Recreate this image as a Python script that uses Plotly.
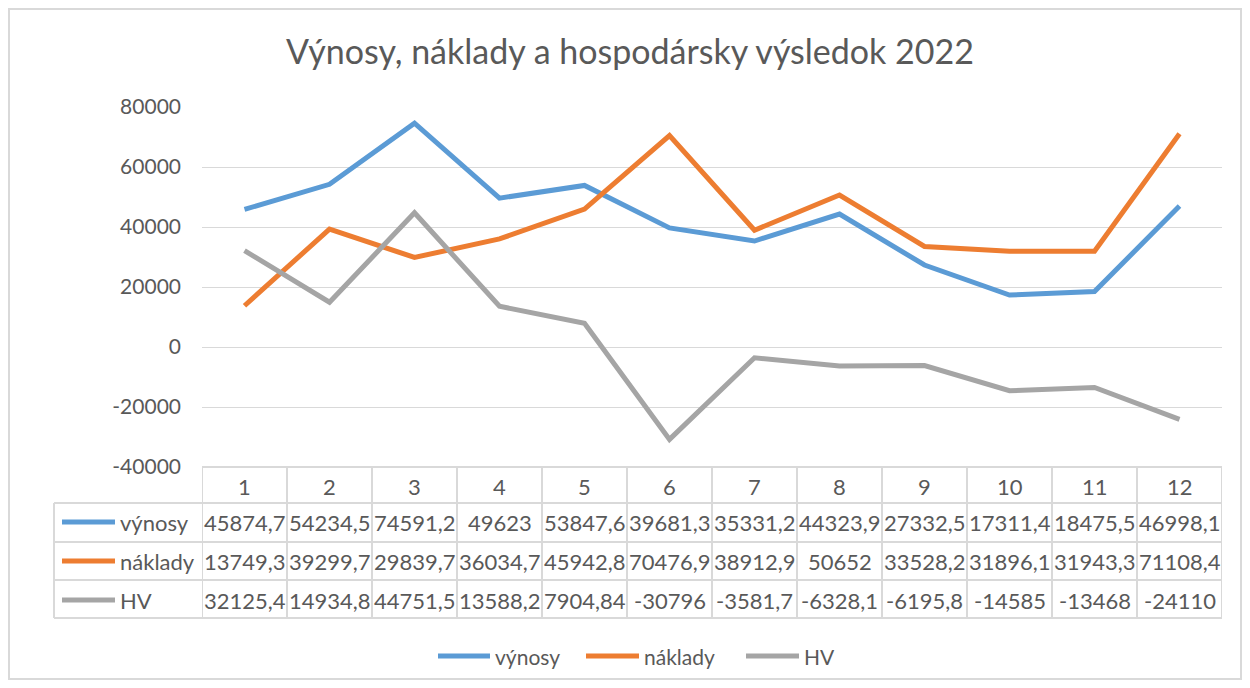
import plotly.graph_objects as go

months = [1, 2, 3, 4, 5, 6, 7, 8, 9, 10, 11, 12]
vynosy = [45874.7, 54234.5, 74591.2, 49623, 53847.6, 39681.3, 35331.2, 44323.9, 27332.5, 17311.4, 18475.5, 46998.1]
naklady = [13749.3, 39299.7, 29839.7, 36034.7, 45942.8, 70476.9, 38912.9, 50652, 33528.2, 31896.1, 31943.3, 71108.4]
hv = [32125.4, 14934.8, 44751.5, 13588.2, 7904.84, -30796, -3581.7, -6328.1, -6195.8, -14585, -13468, -24110]
y_ticks = [-40000, -20000, 0, 20000, 40000, 60000, 80000]

series = [("výnosy", vynosy, "#5B9BD5"), ("náklady", naklady, "#ED7D31"), ("HV", hv, "#A5A5A5")]

TXT = "#595959"
GRID = "#D9D9D9"
FONT = "Lato"

# page pixel -> paper coords (figure sits 8px in from page edge)
def px(X):
    return (X - 202) / 1020

def py(Y):
    return (467 - Y) / 360

def fmt(v):
    return "{:g}".format(v).replace(".", ",")

fig = go.Figure()
for name, vals, col in series:
    fig.add_trace(go.Scatter(x=months, y=vals, name=name, mode="lines",
                             line=dict(color=col, width=5)))

shapes = []
ann = []

def label(x, y, text, xref="paper", xanchor="center", size=22):
    ann.append(dict(x=x, y=y, xref=xref, yref="paper", text=text, showarrow=False,
                    xanchor=xanchor, yanchor="middle",
                    font=dict(family=FONT, size=size, color=TXT)))

# table grid
tbl_lines = dict(color=GRID, width=2)
for k in range(len(months) + 1):
    shapes.append(dict(type="line", xref="x", yref="paper", x0=k + 0.5, x1=k + 0.5,
                       y0=py(467), y1=py(618), line=tbl_lines))
shapes.append(dict(type="line", xref="paper", yref="paper", x0=px(54), x1=px(54),
                   y0=py(503), y1=py(618), line=tbl_lines))
shapes.append(dict(type="line", xref="paper", yref="paper", x0=px(202), x1=px(1222),
                   y0=py(467), y1=py(467), line=tbl_lines))
for Y in [503, 542, 580, 618]:
    shapes.append(dict(type="line", xref="paper", yref="paper", x0=px(54), x1=px(1222),
                       y0=py(Y), y1=py(Y), line=tbl_lines))

# header row
for m in months:
    label(m, py(486), str(m), xref="x")

row_centers = [522, 561, 600]
for (name, vals, col), Y in zip(series, row_centers):
    shapes.append(dict(type="line", xref="paper", yref="paper", x0=px(62), x1=px(115),
                       y0=py(Y), y1=py(Y), line=dict(color=col, width=5)))
    label(px(118), py(Y), name, xanchor="left")
    for m, v in zip(months, vals):
        label(m, py(Y), fmt(v), xref="x")

# legend at bottom
leg = [(438, 490, 493), (586, 639, 642), (746, 799, 802)]
for (name, vals, col), (a, b, t) in zip(series, leg):
    shapes.append(dict(type="line", xref="paper", yref="paper", x0=px(a), x1=px(b),
                       y0=py(656), y1=py(656), line=dict(color=col, width=5)))
    label(px(t), py(656), name, xanchor="left", size=21)

# chart border
shapes.append(dict(type="rect", xref="paper", yref="paper", x0=px(9), x1=px(1241),
                   y0=py(9), y1=py(679), line=dict(color=GRID, width=2)))

fig.update_layout(
    width=1234, height=672,
    margin=dict(l=194, r=20, t=99, b=213),
    paper_bgcolor="white", plot_bgcolor="white",
    showlegend=False,
    title=dict(text="Výnosy, náklady a hospodársky výsledok 2022", x=(630 - 8) / 1234, xanchor="center",
               y=1 - 44 / 672, yanchor="middle", font=dict(family=FONT, size=34, color=TXT)),
    xaxis=dict(range=[0.5, 12.5], showticklabels=False, showgrid=False, zeroline=False, ticks=""),
    yaxis=dict(range=[-40000, 80000], tickvals=y_ticks, ticktext=[str(v) for v in y_ticks],
               gridcolor=GRID, gridwidth=1, zeroline=False, showline=False,
               ticklabelstandoff=20, tickfont=dict(family=FONT, size=21, color=TXT)),
    shapes=shapes, annotations=ann,
)

fig.write_html("out.html", config={"displayModeBar": False})
